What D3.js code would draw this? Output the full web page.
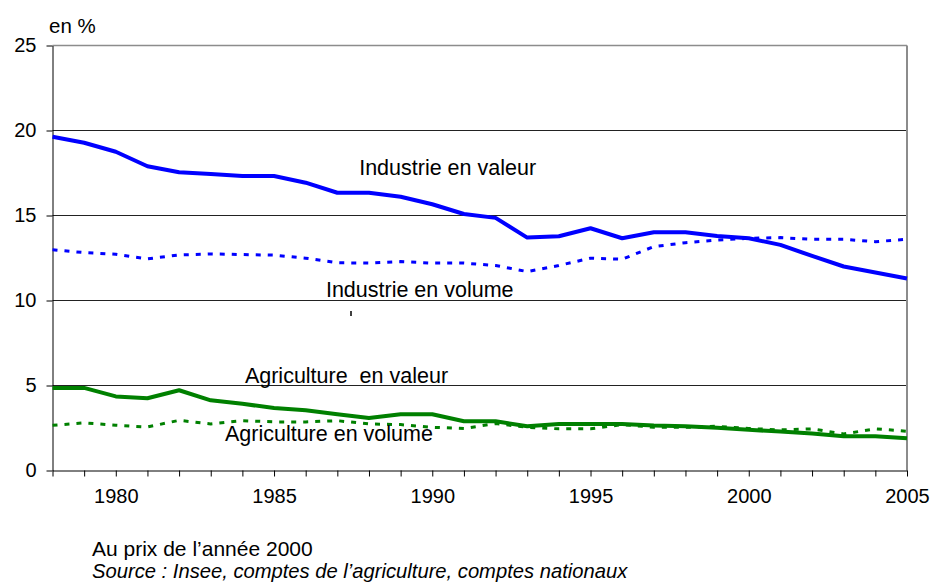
<!DOCTYPE html>
<html>
<head>
<meta charset="utf-8">
<script src="https://cdn.jsdelivr.net/npm/d3@7"></script>
<style>
	body { margin: 0; background: #fff; }
	text { font-family: "Liberation Sans", Arial, sans-serif; fill: #000; }
</style>
</head>
<body>
<div id="root"></div>
<script>
const years = [1978, 1979, 1980, 1981, 1982, 1983, 1984, 1985, 1986, 1987, 1988, 1989, 1990, 1991,
	1992, 1993, 1994, 1995, 1996, 1997, 1998, 1999, 2000, 2001, 2002, 2003, 2004, 2005];

const industrieValeur = [19.63, 19.28, 18.75, 17.9, 17.54, 17.44, 17.32, 17.32, 16.93, 16.34, 16.34, 16.1, 15.66, 15.09,
	14.86, 13.7, 13.78, 14.25, 13.66, 14.01, 14.01, 13.8, 13.66, 13.27, 12.62, 12.0, 11.65, 11.29];
const industrieVolume = [12.98, 12.82, 12.72, 12.45, 12.68, 12.74, 12.7, 12.67, 12.49, 12.22, 12.2, 12.29, 12.2, 12.2,
	12.06, 11.7, 12.06, 12.49, 12.43, 13.17, 13.4, 13.56, 13.66, 13.7, 13.6, 13.6, 13.46, 13.6];
const agriValeur = [4.86, 4.86, 4.36, 4.25, 4.72, 4.13, 3.92, 3.68, 3.54, 3.31, 3.09, 3.31, 3.31, 2.9,
	2.9, 2.6, 2.74, 2.74, 2.74, 2.64, 2.6, 2.51, 2.39, 2.29, 2.17, 2.01, 2.01, 1.9];
const agriVolume = [2.66, 2.8, 2.66, 2.56, 2.95, 2.74, 2.93, 2.86, 2.86, 2.93, 2.74, 2.7, 2.54, 2.47,
	2.76, 2.54, 2.45, 2.45, 2.7, 2.54, 2.54, 2.6, 2.47, 2.39, 2.45, 2.15, 2.45, 2.31];

const yTicks = [0, 5, 10, 15, 20, 25];
const xTickLabels = [1980, 1985, 1990, 1995, 2000, 2005];

// label text, anchored in data units (year, %)
const seriesLabels = [
	{ text: "Industrie en valeur", year: 1987.69, value: 17.38 },
	{ text: "Industrie en volume", year: 1986.64, value: 10.21 },
	{ text: "Agriculture\u00a0 en valeur", year: 1984.08, value: 5.15 },
	{ text: "Agriculture en volume", year: 1983.45, value: 1.74 }
];

const series = [
	{ values: industrieValeur, color: "#0000ff", width: 4, dash: null },
	{ values: agriValeur, color: "#008000", width: 4, dash: null },
	{ values: industrieVolume, color: "#0000ff", width: 3, dash: "5, 7" },
	{ values: agriVolume, color: "#008000", width: 3, dash: "5, 7" }
];

const width = 933;
const height = 582;

const x = d3.scaleLinear().domain([1978, 2005]).range([52.5, 907]);
const y = d3.scaleLinear().domain([0, 25]).range([470.5, 45.5]);

const svg = d3.select("#root")
	.append("svg")
		.attr("width", width)
		.attr("height", height)
		.style("display", "block");

svg.append("rect")
	.attr("width", width)
	.attr("height", height)
	.attr("fill", "#fff");

// horizontal grid
svg.append("g")
	.selectAll("line")
	.data(yTicks.filter(d => d > 0 && d < 25))
	.enter()
	.append("line")
		.attr("x1", x(1978)).attr("x2", x(2005))
		.attr("y1", d => y(d)).attr("y2", d => y(d))
		.style("stroke", "#222")
		.style("stroke-width", 1);

// frame top / right (grey)
svg.append("line")
	.attr("x1", x(1978)).attr("x2", x(2005))
	.attr("y1", y(25)).attr("y2", y(25))
	.style("stroke", "#8c8c8c")
	.style("stroke-width", 1.5);

svg.append("line")
	.attr("x1", x(2005)).attr("x2", x(2005))
	.attr("y1", y(25)).attr("y2", y(0))
	.style("stroke", "#8c8c8c")
	.style("stroke-width", 2);

// y axis
const yAxis = svg.append("g")
	.attr("transform", `translate(${ x(1978) }, 0)`)
	.call(d3.axisLeft(y).tickValues(yTicks).tickSize(6).tickPadding(10).tickSizeOuter(0));

yAxis.select(".domain").style("stroke", "#000");
yAxis.selectAll(".tick line").style("stroke", "#000");
yAxis.selectAll(".tick text")
	.style("font-size", "20px")
	.style("font-family", "Liberation Sans, Arial, sans-serif")
	.attr("fill", "#000");

// x axis: a tick every year, a label every five
const xAxis = svg.append("g")
	.attr("transform", `translate(0, ${ y(0) })`)
	.call(d3.axisBottom(x)
		.tickValues(years)
		.tickSize(6)
		.tickPadding(12)
		.tickSizeOuter(0)
		.tickFormat(d => xTickLabels.includes(d) ? d : ""));

xAxis.select(".domain").style("stroke", "#000");
xAxis.selectAll(".tick line").style("stroke", "#000");
xAxis.selectAll(".tick text")
	.style("font-size", "20px")
	.style("font-family", "Liberation Sans, Arial, sans-serif")
	.attr("fill", "#000");

// series
const line = d3.line()
	.x((d, i) => x(years[i]))
	.y(d => y(d));

svg.append("g")
	.selectAll(".series")
	.data(series)
	.enter()
	.append("path")
		.attr("class", "series")
		.attr("d", d => line(d.values))
		.style("fill", "none")
		.style("stroke", d => d.color)
		.style("stroke-width", d => d.width)
		.style("stroke-linejoin", "round")
		.style("stroke-dasharray", d => d.dash);

// series labels
svg.append("g")
	.selectAll(".label")
	.data(seriesLabels)
	.enter()
	.append("text")
		.attr("class", "label")
		.attr("x", d => x(d.year))
		.attr("y", d => y(d.value))
		.style("font-size", "21.5px")
		.text(d => d.text);

// little stray mark left under the volume label
svg.append("line")
	.attr("x1", 351).attr("x2", 351)
	.attr("y1", 311).attr("y2", 316)
	.style("stroke", "#000")
	.style("stroke-width", 1.5);

// unit
svg.append("text")
	.attr("x", 49)
	.attr("y", 33)
	.style("font-size", "20.5px")
	.text("en %");

// notes
svg.append("text")
	.attr("x", 92)
	.attr("y", 556)
	.style("font-size", "21px")
	.text("Au prix de l\u2019ann\u00e9e 2000");

svg.append("text")
	.attr("x", 92)
	.attr("y", 578)
	.style("font-size", "20.2px")
	.style("font-style", "italic")
	.text("Source : Insee, comptes de l\u2019agriculture, comptes nationaux");
</script>
</body>
</html>
